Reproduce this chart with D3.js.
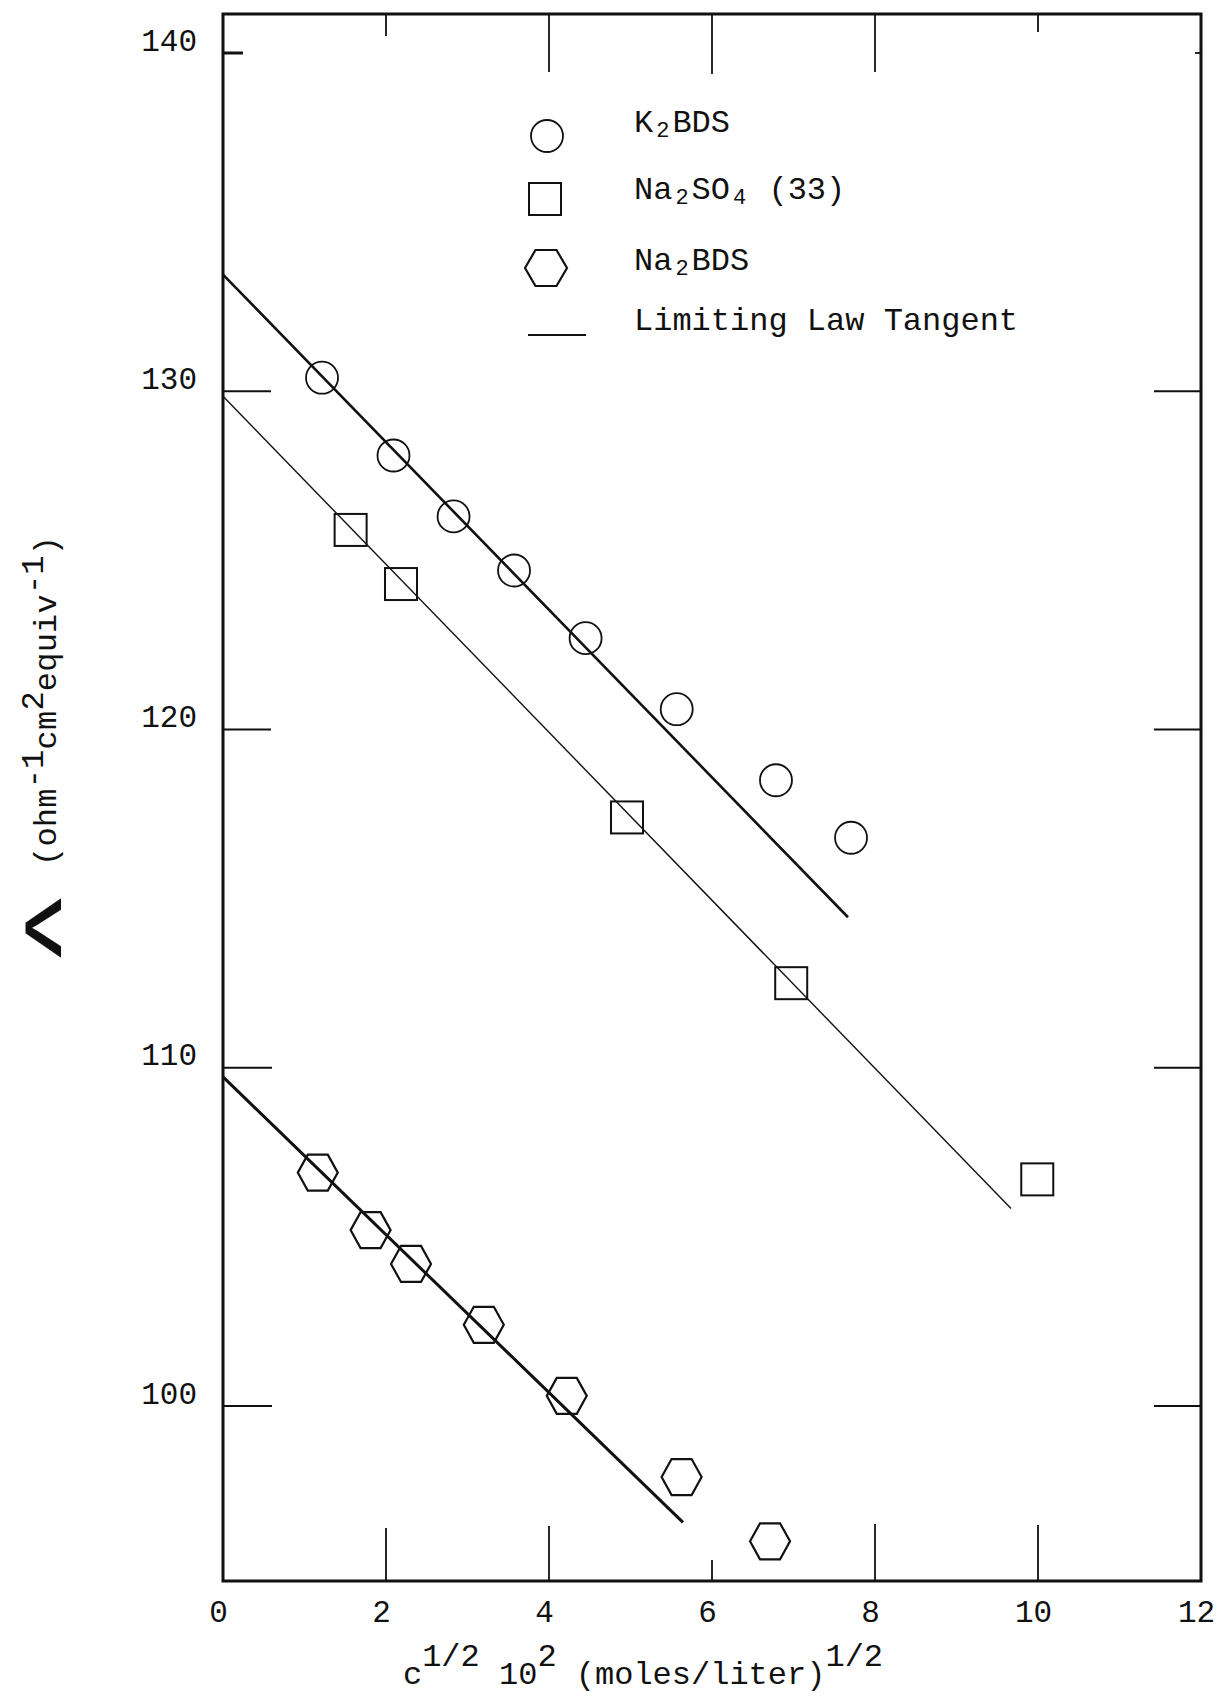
<!DOCTYPE html>
<html>
<head>
<meta charset="utf-8">
<script src="https://cdn.jsdelivr.net/npm/d3@7"></script>
<style>
  html, body { margin: 0; padding: 0; background: #fff; }
  svg { display: block; }
  text { font-family: "Liberation Mono", "DejaVu Sans Mono", monospace; fill: #111; }
</style>
</head>
<body>
<svg id="chart" width="1227" height="1699"></svg>
<script>
// Equivalent conductance against the square root of concentration

// K2BDS
const k2bdsX = [1.215, 2.092, 2.829, 3.571, 4.449, 5.567, 6.785, 7.706];
const k2bdsY = [130.4, 128.1, 126.3, 124.7, 122.7, 120.6, 118.5, 116.8];

// Na2SO4 (33)
const na2so4X = [1.566, 2.184, 4.957, 6.972, 9.991];
const na2so4Y = [125.9, 124.3, 117.4, 112.5, 106.7];

// Na2BDS
const na2bdsX = [1.163, 1.811, 2.307, 3.200, 4.218, 5.627, 6.712];
const na2bdsY = [106.9, 105.2, 104.2, 102.4, 100.3, 97.9, 96.0];

// Limiting law tangents, each as [x start, Λ start, x end, Λ end]
const tangentK2BDS = [0, 133.45, 7.669, 114.45];
const tangentNa2SO4 = [0, 129.85, 9.669, 105.84];
const tangentNa2BDS = [0, 109.73, 5.644, 96.56];

// Axis ticks
const xTicks = [0, 2, 4, 6, 8, 10, 12];
const yTicks = [100, 110, 120, 130, 140];

// Legend entries
const legendNames = ["K2BDS", "Na2SO4 (33)", "Na2BDS", "Limiting Law Tangent"];

// ---------------------------------------------------------------
const svg = d3.select("#chart");

const frame = { left: 223, right: 1201, top: 14, bottom: 1581 };

const x = d3.scaleLinear().domain([0, 12]).range([223, 1201]);
const y = d3.scaleLinear().domain([100, 140]).range([1406, 53]);

const ink = "#111";

// plot frame
svg.append("rect")
  .attr("x", frame.left).attr("y", frame.top)
  .attr("width", frame.right - frame.left)
  .attr("height", frame.bottom - frame.top)
  .attr("fill", "none").attr("stroke", ink).attr("stroke-width", 3);

// tick marks drawn inward from every side (hand-ruled lengths)
const leftTickLen = { 100: 49, 110: 49, 120: 48, 130: 48, 140: 20 };
const rightTickLen = { 100: 47, 110: 47, 120: 47, 130: 47, 140: 6 };
const topTickLen = { 2: 22, 4: 58, 6: 60, 8: 58, 10: 18 };
const bottomTickLen = { 2: 53, 4: 55, 6: 21, 8: 57, 10: 56 };

const tickG = svg.append("g").attr("stroke", ink).attr("stroke-width", 1.8);
yTicks.forEach(v => {
  tickG.append("line")
    .attr("x1", frame.left).attr("x2", frame.left + leftTickLen[v])
    .attr("y1", y(v)).attr("y2", y(v))
    .attr("stroke-width", v === 140 ? 3 : 1.8);
  tickG.append("line")
    .attr("x1", frame.right - rightTickLen[v]).attr("x2", frame.right)
    .attr("y1", y(v)).attr("y2", y(v));
});
xTicks.filter(v => v > 0 && v < 12).forEach(v => {
  tickG.append("line")
    .attr("x1", x(v)).attr("x2", x(v))
    .attr("y1", frame.top).attr("y2", frame.top + topTickLen[v]);
  tickG.append("line")
    .attr("x1", x(v)).attr("x2", x(v))
    .attr("y1", frame.bottom - bottomTickLen[v]).attr("y2", frame.bottom);
});

// tick labels through d3 axes (axis lines themselves hidden; the frame is drawn above)
const yAxis = svg.append("g")
  .attr("transform", `translate(${frame.left},0)`)
  .call(d3.axisLeft(y).tickValues(yTicks).tickSize(0).tickPadding(26).tickFormat(d3.format("d")));
yAxis.select(".domain").remove();
yAxis.selectAll("text")
  .attr("dy", -3)
  .attr("font-size", 31)
  .attr("font-family", "Liberation Mono, DejaVu Sans Mono, monospace")
  .attr("fill", ink);

const xAxis = svg.append("g")
  .attr("transform", `translate(0,${frame.bottom})`)
  .call(d3.axisBottom(x).tickValues(xTicks).tickSize(0).tickFormat(d3.format("d")));
xAxis.select(".domain").remove();
xAxis.selectAll("text")
  .attr("y", 0).attr("dy", 41).attr("dx", -5)
  .attr("font-size", 31)
  .attr("font-family", "Liberation Mono, DejaVu Sans Mono, monospace")
  .attr("fill", ink);

// ---------------------------------------------------------------
// limiting law tangent lines
const tangents = [
  { t: tangentK2BDS, w: 2.6 },
  { t: tangentNa2SO4, w: 1.4 },
  { t: tangentNa2BDS, w: 3.0 }
];
svg.append("g").selectAll("line")
  .data(tangents)
  .join("line")
  .attr("x1", d => x(d.t[0])).attr("y1", d => y(d.t[1]))
  .attr("x2", d => x(d.t[2])).attr("y2", d => y(d.t[3]))
  .attr("stroke", ink)
  .attr("stroke-width", d => d.w);

// marker shapes
const hexPath = (w, h) => {
  const a = w / 2, b = h / 2, c = w / 4;
  return `M${-a},0L${-c},${-b}L${c},${-b}L${a},0L${c},${b}L${-c},${b}Z`;
};
const circleR = 16, squareS = 32, hexW = 40, hexH = 36;

// K2BDS circles
svg.append("g").selectAll("circle")
  .data(d3.zip(k2bdsX, k2bdsY))
  .join("circle")
  .attr("cx", d => x(d[0])).attr("cy", d => y(d[1]))
  .attr("r", circleR)
  .attr("fill", "none").attr("stroke", ink).attr("stroke-width", 1.8);

// Na2SO4 squares
svg.append("g").selectAll("rect")
  .data(d3.zip(na2so4X, na2so4Y))
  .join("rect")
  .attr("x", d => x(d[0]) - squareS / 2).attr("y", d => y(d[1]) - squareS / 2)
  .attr("width", squareS).attr("height", squareS)
  .attr("fill", "none").attr("stroke", ink).attr("stroke-width", 2);

// Na2BDS hexagons
svg.append("g").selectAll("path")
  .data(d3.zip(na2bdsX, na2bdsY))
  .join("path")
  .attr("transform", d => `translate(${x(d[0])},${y(d[1])})`)
  .attr("d", hexPath(hexW, hexH))
  .attr("fill", "none").attr("stroke", ink).attr("stroke-width", 2.2);

// ---------------------------------------------------------------
// legend
const lg = svg.append("g");
const textX = 634;
const rowBase = [132, 199, 270, 330];
const symX = 547;

lg.append("circle").attr("cx", symX).attr("cy", 136).attr("r", circleR)
  .attr("fill", "none").attr("stroke", ink).attr("stroke-width", 1.8);
lg.append("rect").attr("x", symX - 2 - squareS / 2).attr("y", 199 - squareS / 2)
  .attr("width", squareS).attr("height", squareS)
  .attr("fill", "none").attr("stroke", ink).attr("stroke-width", 2);
lg.append("path").attr("transform", `translate(${symX - 1},268)`).attr("d", hexPath(42, 36))
  .attr("fill", "none").attr("stroke", ink).attr("stroke-width", 2.2);
lg.append("line").attr("x1", 528).attr("x2", 586).attr("y1", 335).attr("y2", 335)
  .attr("stroke", ink).attr("stroke-width", 2);

// chemical formulas: digits typed as subscripts
function formula(sel, label) {
  const parts = label.match(/[A-Za-z() ]+|\d+/g);
  let prevSub = false;
  parts.forEach((p, i) => {
    const isSub = /^\d$/.test(p) && i > 0 && !/\($/.test(parts[i - 1]) && /[a-zA-Z]$/.test(parts[i - 1]);
    const t = sel.append("tspan").text(p);
    if (isSub) {
      t.attr("font-size", 22).attr("dy", 5).attr("dx", 3);
    } else {
      t.attr("font-size", 32);
      if (prevSub) t.attr("dy", -5).attr("dx", 3);
    }
    prevSub = isSub;
  });
}

legendNames.forEach((name, i) => {
  const t = lg.append("text").attr("x", textX).attr("y", rowBase[i]).attr("font-size", 32);
  if (i < 3) formula(t, name); else t.text(name);
});

// ---------------------------------------------------------------
// axis titles
const xt = svg.append("text")
  .attr("x", 643).attr("y", 1684)
  .attr("text-anchor", "middle")
  .attr("font-size", 32);
xt.append("tspan").text("c");
xt.append("tspan").text("1/2").attr("dy", -18);
xt.append("tspan").text(" 10").attr("dy", 18);
xt.append("tspan").text("2").attr("dy", -18);
xt.append("tspan").text(" (moles/liter)").attr("dy", 18);
xt.append("tspan").text("1/2").attr("dy", -18);

const yt = svg.append("text")
  .attr("transform", "translate(56,866) rotate(-90)")
  .attr("font-size", 32)
  .attr("textLength", 330).attr("lengthAdjust", "spacing");
yt.append("tspan").text("(ohm");
yt.append("tspan").text("-1").attr("dy", -13);
yt.append("tspan").text("cm").attr("dy", 13);
yt.append("tspan").text("2").attr("dy", -13);
yt.append("tspan").text("equiv").attr("dy", 13);
yt.append("tspan").text("-1").attr("dy", -13);
yt.append("tspan").text(")").attr("dy", 13);

// the Λ symbol, turned so that its apex points left
svg.append("text")
  .attr("transform", "translate(60,928) rotate(-90) scale(1.55,0.85)")
  .attr("text-anchor", "middle")
  .attr("font-family", "DejaVu Sans, sans-serif")
  .attr("font-size", 62)
  .attr("stroke", ink).attr("stroke-width", 1.2)
  .text("Λ");
</script>
</body>
</html>
